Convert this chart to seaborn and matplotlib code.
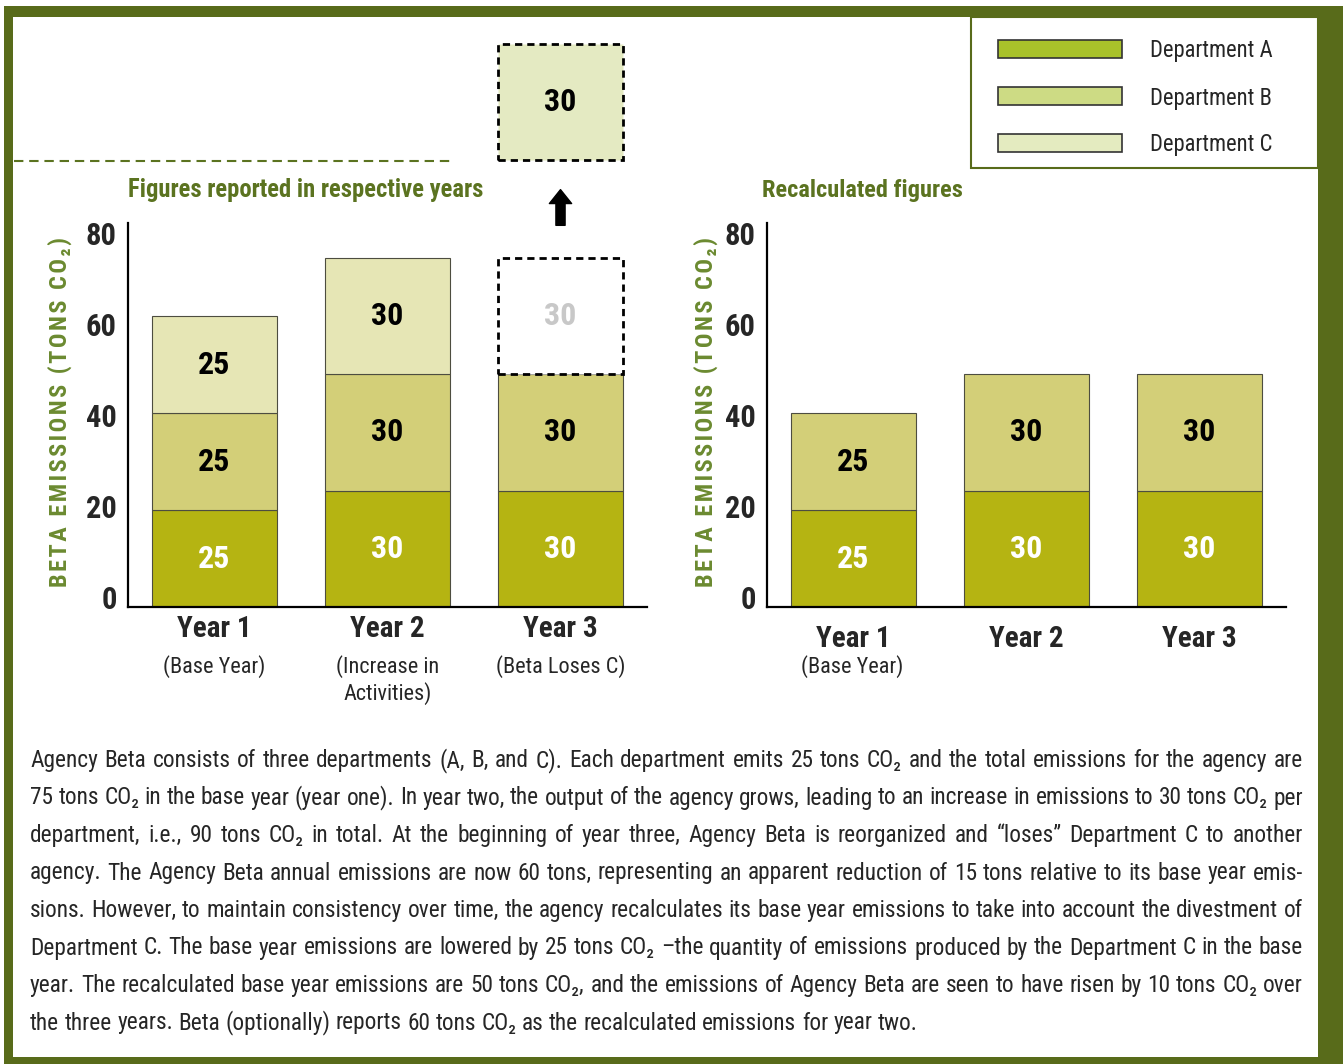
import matplotlib
matplotlib.use("Agg")
import matplotlib.pyplot as plt
import matplotlib.patches as mpatches
from matplotlib.lines import Line2D
from matplotlib import font_manager
import seaborn as sns

# ---- data -------------------------------------------------------------
years = ["Year 1", "Year 2", "Year 3"]
notes_reported = ["(Base Year)", "(Increase in\nActivities)", "(Beta Loses C)"]
notes_recalc = ["(Base Year)", "", ""]

reported_a = [25, 30, 30]
reported_b = [25, 30, 30]
reported_c = [25, 30]      # Year 1 and Year 2, C still inside the agency
lost_c = [30]              # Year 3, C moved to another agency

recalc_a = [25, 30, 30]
recalc_b = [25, 30, 30]

departments = ["Department A", "Department B", "Department C"]
y_ticks = [0, 20, 40, 60, 80]

paragraph = [
    "Agency Beta consists of three departments (A, B, and C). Each department emits 25 tons CO\u2082 and the total emissions for the agency are",
    "75 tons CO\u2082 in the base year (year one). In year two, the output of the agency grows, leading to an increase in emissions to 30 tons CO\u2082 per",
    "department, i.e., 90 tons CO\u2082 in total. At the beginning of year three, Agency Beta is reorganized and \u201closes\u201d Department C to another",
    "agency. The Agency Beta annual emissions are now 60 tons, representing an apparent reduction of 15 tons relative to its base year emis-",
    "sions. However, to maintain consistency over time, the agency recalculates its base year emissions to take into account the divestment of",
    "Department C. The base year emissions are lowered by 25 tons CO\u2082 \u2013the quantity of emissions produced by the Department C in the base",
    "year. The recalculated base year emissions are 50 tons CO\u2082, and the emissions of Agency Beta are seen to have risen by 10 tons CO\u2082 over",
    "the three years. Beta (optionally) reports 60 tons CO\u2082 as the recalculated emissions for year two.",
]

# ---- style ------------------------------------------------------------
border_olive = "#586b1a"
title_olive = "#5b7320"
ylabel_olive = "#6b8a30"
bar_colors = ["#b5b412", "#d3cf78", "#e6e6b5"]
legend_colors = ["#a9c22a", "#cddb84", "#e4ebc0"]
float_fill = "#e4eac2"
edge = "#4d4d40"


def pick_font():
    for name in ["Roboto Condensed", "Liberation Sans Narrow", "Open Sans Condensed"]:
        try:
            font_manager.findfont(name, fallback_to_default=False)
            return name
        except ValueError:
            pass
    return "DejaVu Sans"


sns.set_style("white")
main_font = pick_font()
plt.rcParams["font.family"] = [main_font, "DejaVu Sans"]

W, H = 1343, 1064


def fx(x):
    return x / W


def fy(y):
    return 1 - y / H


fig = plt.figure(figsize=(W / 100, H / 100), dpi=100)

# outer olive frame
fig.add_artist(mpatches.Rectangle((fx(4), 0), 1 - fx(4), fy(6), transform=fig.transFigure,
                                  facecolor=border_olive, edgecolor="none", zorder=-20))
fig.add_artist(mpatches.Rectangle((fx(13), fy(1057)), fx(1318) - fx(13), fy(17) - fy(1057),
                                  transform=fig.transFigure, facecolor="white",
                                  edgecolor="none", zorder=-19))

# bars are drawn with the printed labels as heights; the printed axis is not
# to scale with them, so tick positions follow the original artwork
tick_pos = [2.6 + v * 1.172 for v in y_ticks]
y_max = 99

ax1 = fig.add_axes([fx(128), fy(607), fx(647) - fx(128), fy(223) - fy(607)])
ax2 = fig.add_axes([fx(767), fy(607), fx(1286) - fx(767), fy(223) - fy(607)])

bar_kw = dict(order=years, saturation=1, width=0.72, edgecolor=edge,
              linewidth=0.8, errorbar=None)


def label_bars(ax, xs, bottoms, heights, color):
    for x, b, h in zip(xs, bottoms, heights):
        ax.text(x, b + h / 2, f"{h}", ha="center", va="center", fontsize=23,
                fontweight="bold", color=color, clip_on=False)


# left: figures reported in respective years
sns.barplot(x=years, y=reported_a, color=bar_colors[0], ax=ax1, **bar_kw)
sns.barplot(x=years, y=reported_b, bottom=reported_a, color=bar_colors[1], ax=ax1, **bar_kw)
base_c = [a + b for a, b in zip(reported_a, reported_b)]
sns.barplot(x=years[:2], y=reported_c, bottom=base_c[:2], color=bar_colors[2], ax=ax1, **bar_kw)
sns.barplot(x=years[2:], y=lost_c, bottom=base_c[2], color="white", ax=ax1,
            order=years, saturation=1, width=0.72, edgecolor="black", linewidth=2,
            linestyle=(0, (2.6, 1.8)), errorbar=None)
float_bottom = 115.2
sns.barplot(x=years[2:], y=lost_c, bottom=float_bottom, color=float_fill, ax=ax1,
            order=years, saturation=1, width=0.72, edgecolor="black", linewidth=2,
            linestyle=(0, (2.6, 1.8)), errorbar=None, clip_on=False)

label_bars(ax1, range(3), [0] * 3, reported_a, "white")
label_bars(ax1, range(3), reported_a, reported_b, "black")
label_bars(ax1, range(2), base_c[:2], reported_c, "black")
label_bars(ax1, [2], [base_c[2]], lost_c, "#c8c8c8")
label_bars(ax1, [2], [float_bottom], lost_c, "black")
ax1.annotate("", xy=(2, 107.6), xytext=(2, 98.4), annotation_clip=False,
             arrowprops=dict(arrowstyle="simple,head_length=0.5,head_width=0.8,tail_width=0.33",
                             color="black", mutation_scale=20, shrinkA=0, shrinkB=0))

# right: recalculated figures
sns.barplot(x=years, y=recalc_a, color=bar_colors[0], ax=ax2, **bar_kw)
sns.barplot(x=years, y=recalc_b, bottom=recalc_a, color=bar_colors[1], ax=ax2, **bar_kw)
label_bars(ax2, range(3), [0] * 3, recalc_a, "white")
label_bars(ax2, range(3), recalc_a, recalc_b, "black")

# letter-spaced axis title
ylabel = "\u200a".join("BETA EMISSIONS (TONS CO\u2082)")
for ax, notes, xlab_pad, ylab_x in [(ax1, notes_reported, 6, -0.107), (ax2, notes_recalc, 13, -0.094)]:
    ax.set_xlim(-0.5, 2.5)
    ax.set_ylim(0, y_max)
    ax.set_facecolor("none")
    sns.despine(ax=ax)
    for s in ["left", "bottom"]:
        ax.spines[s].set_linewidth(1.6)
        ax.spines[s].set_color("black")
    ax.set_yticks(tick_pos)
    ax.set_yticklabels([str(v) for v in y_ticks], fontsize=22, fontweight="bold")
    ax.tick_params(axis="y", length=0, pad=8)
    ax.tick_params(axis="x", length=0, pad=xlab_pad)
    ax.set_xticks(range(3))
    ax.set_xticklabels(years, fontsize=21, fontweight="bold")
    ax.set_xlabel("")
    ax.set_ylabel(ylabel, fontsize=17.5, fontweight="bold", color=ylabel_olive)
    ax.yaxis.set_label_coords(ylab_x, 0.508)

for i, note in enumerate(notes_reported):
    fig.text(fx(214.5 + 173 * i), fy(655), note, ha="center", va="top", fontsize=16,
             linespacing=1.2)
for i, note in enumerate(notes_recalc):
    if note:
        fig.text(fx(852 + 173 * i), fy(655), note, ha="center", va="top", fontsize=16)

# titles and dashed rule
fig.text(fx(128), fy(190), "Figures reported in respective years", ha="left", va="center",
         fontsize=17.7, fontweight="bold", color=title_olive)
fig.text(fx(762), fy(190), "Recalculated figures", ha="left", va="center",
         fontsize=17.6, fontweight="bold", color=title_olive)
fig.add_artist(Line2D([fx(14), fx(452)], [fy(161), fy(161)], transform=fig.transFigure,
                      color=title_olive, linewidth=1.5, linestyle=(0, (4.5, 2.8))))

# legend box
fig.add_artist(mpatches.Rectangle((fx(971), fy(168)), fx(1318) - fx(971), fy(17) - fy(168),
                                  transform=fig.transFigure, facecolor="white",
                                  edgecolor=border_olive, linewidth=1.5))
for i, (name, c) in enumerate(zip(departments, legend_colors)):
    yc = 49 + 47 * i
    fig.add_artist(mpatches.Rectangle((fx(998), fy(yc + 9)), fx(1122) - fx(998), fy(yc - 9) - fy(yc + 9),
                                      transform=fig.transFigure, facecolor=c,
                                      edgecolor="#333333", linewidth=1.2))
    fig.text(fx(1150), fy(yc + 2), name, ha="left", va="center", fontsize=16.3)

# justified paragraph
renderer = fig.canvas.get_renderer()
text_left, text_right = 30, 1303
para_size = 16.8
for n, line in enumerate(paragraph):
    base_y = 767 + 37.5 * n
    words = line.split(" ")
    arts = [fig.text(0, fy(base_y), w, ha="left", va="baseline", fontsize=para_size) for w in words]
    widths = [a.get_window_extent(renderer).width for a in arts]
    if n < len(paragraph) - 1:
        gap = (text_right - text_left - sum(widths)) / (len(words) - 1)
    else:
        gap = 0.23 * para_size * 100 / 72
    x = text_left
    for a, w in zip(arts, widths):
        a.set_x(fx(x))
        x += w + gap

fig.savefig("out.png", dpi=100)
